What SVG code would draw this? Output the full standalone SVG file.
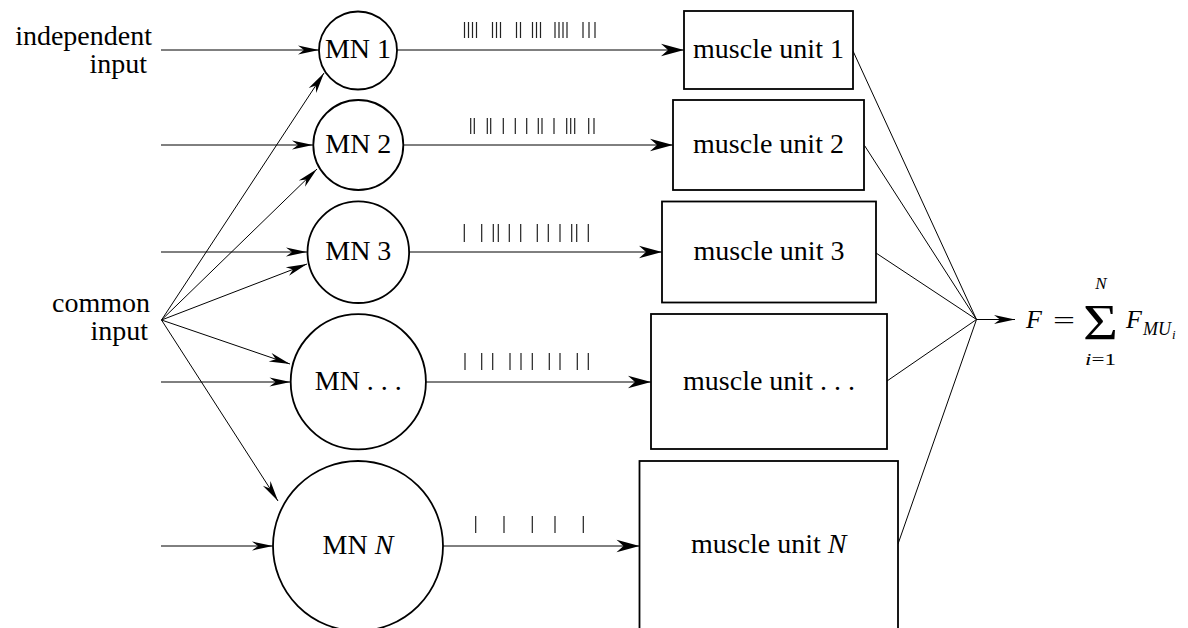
<svg xmlns="http://www.w3.org/2000/svg" width="1188" height="628" viewBox="0 0 1188 628">
<style>
text{font-family:'Liberation Serif','Times New Roman',serif;fill:#000}
.lbl{font-size:28px}
.node{fill:#fff;stroke:#000;stroke-width:1.8}
.conn{fill:none;stroke:#000;stroke-width:1}
.spk{fill:none;stroke:#222;stroke-width:1.2}
.it{font-style:italic}
</style>
<defs>
<marker id="ah" markerUnits="userSpaceOnUse" markerWidth="30" markerHeight="20" refX="0" refY="0" orient="auto" overflow="visible">
<path d="M0,0 L-21,-4.5 L-15,0 L-21,4.5 Z" fill="#000"/>
</marker>
<marker id="ahb" markerUnits="userSpaceOnUse" markerWidth="30" markerHeight="20" refX="0" refY="0" orient="auto" overflow="visible">
<path d="M0,0 L-23,-6.3 L-16,0 L-23,6.3 Z" fill="#000"/>
</marker>
</defs>
<rect width="1188" height="628" fill="#fff"/>

<g id="labels">
<text class="lbl" x="152" y="45" text-anchor="end">independent</text>
<text class="lbl" x="147" y="73" text-anchor="end">input</text>
<text class="lbl" x="150" y="312" text-anchor="end">common</text>
<text class="lbl" x="148" y="340" text-anchor="end">input</text>
</g>

<g id="connectors">
<path class="conn" marker-end="url(#ah)" d="M161,50 H319"/>
<path class="conn" marker-end="url(#ah)" d="M161,145 H313"/>
<path class="conn" marker-end="url(#ah)" d="M161,252 H307"/>
<path class="conn" marker-end="url(#ah)" d="M161,382 H290.5"/>
<path class="conn" marker-end="url(#ah)" d="M161,546 H273"/>
<path class="conn" marker-end="url(#ah)" d="M161.5,320 L324,73"/>
<path class="conn" marker-end="url(#ah)" d="M161.5,320 L317,169"/>
<path class="conn" marker-end="url(#ah)" d="M161.5,320 L307,264"/>
<path class="conn" marker-end="url(#ah)" d="M161.5,320 L290,364"/>
<path class="conn" marker-end="url(#ah)" d="M161.5,320 L278,501"/>
<path class="conn" marker-end="url(#ahb)" d="M397,50 H684"/>
<path class="conn" marker-end="url(#ahb)" d="M403,145 H673"/>
<path class="conn" marker-end="url(#ahb)" d="M409,252 H662"/>
<path class="conn" marker-end="url(#ahb)" d="M426,382 H651"/>
<path class="conn" marker-end="url(#ahb)" d="M443,546 H639.5"/>
<path class="conn" d="M853,51 L976.5,319.5 M864.5,145.5 L976.5,319.5 M876,253 L976.5,319.5 M887,381 L976.5,319.5 M898,544 L976.5,319.5"/>
<path class="conn" marker-end="url(#ah)" d="M976.5,319.5 H1015"/>
</g>

<g id="spikes">
<path class="spk" d="M464.5,22v16M468.5,22v16M472.5,22v16M476.5,22v16M492.5,22v16M496.5,22v16M500.5,22v16M516.5,22v16M520.5,22v16M532.5,22v16M536.5,22v16M540.5,22v16M555,22v16M559,22v16M563,22v16M567,22v16M583,22v16M589,22v16M595,22v16"/>
<path class="spk" d="M470.7,118v16M474.3,118v16M487.3,118v16M490.7,118v16M503.3,118v16M515.3,118v16M526.7,118v16M538.3,118v16M542,118v16M554,118v16M566.7,118v16M570.7,118v16M574.7,118v16M588.7,118v16M594,118v16"/>
<path class="spk" d="M464.3,224v18M481.7,224v18M493.3,224v18M498.3,224v18M509.3,224v18M520.7,224v18M537.3,224v18M548.3,224v18M560,224v18M571.7,224v18M576.7,224v18M588.3,224v18"/>
<path class="spk" d="M465,353v17M481.7,353v17M492.7,353v17M510,353v17M521,353v17M532.3,353v17M549.3,353v17M560,353v17M577.3,353v17M588.3,353v17"/>
<path class="spk" d="M475.7,516v17M504,516v17M532.3,516v17M555,516v17M583.3,516v17"/>
</g>

<g id="mn1"><circle class="node" cx="358" cy="50.5" r="39"/><text class="lbl" x="358" y="58" text-anchor="middle">MN 1</text></g>
<g id="mn2"><circle class="node" cx="358.3" cy="145" r="45"/><text class="lbl" x="358.3" y="152.5" text-anchor="middle">MN 2</text></g>
<g id="mn3"><circle class="node" cx="358.3" cy="252.2" r="50.8"/><text class="lbl" x="358.3" y="260" text-anchor="middle">MN 3</text></g>
<g id="mn4"><circle class="node" cx="358.3" cy="381.8" r="67.6"/><text class="lbl" x="358.3" y="389.5" text-anchor="middle">MN . . .</text></g>
<g id="mnN"><circle class="node" cx="358" cy="546" r="85"/><text class="lbl" x="358" y="553.5" text-anchor="middle">MN <tspan class="it">N</tspan></text></g>

<g id="mu1"><rect class="node" x="684" y="11" width="169" height="78"/><text class="lbl" x="768.5" y="58" text-anchor="middle">muscle unit 1</text></g>
<g id="mu2"><rect class="node" x="673" y="100" width="191" height="90"/><text class="lbl" x="768.5" y="153" text-anchor="middle">muscle unit 2</text></g>
<g id="mu3"><rect class="node" x="662" y="201.5" width="214" height="101"/><text class="lbl" x="769" y="260" text-anchor="middle">muscle unit 3</text></g>
<g id="mu4"><rect class="node" x="651" y="314" width="236" height="135"/><text class="lbl" x="769" y="390" text-anchor="middle">muscle unit . . .</text></g>
<g id="muN"><rect class="node" x="639.5" y="461" width="258.5" height="172"/><text class="lbl" x="768.75" y="553" text-anchor="middle">muscle unit <tspan class="it">N</tspan></text></g>

<g id="formula">
<text class="it" x="1026" y="328" font-size="26">F</text>
<text x="1053" y="329" font-size="26" textLength="22" lengthAdjust="spacingAndGlyphs">=</text>
<text x="1083" y="339" font-size="50" textLength="35" lengthAdjust="spacingAndGlyphs">Σ</text>
<text class="it" x="1101" y="289" font-size="17" text-anchor="middle">N</text>
<text x="1085" y="365" font-size="17" textLength="31" lengthAdjust="spacingAndGlyphs"><tspan class="it">i</tspan>=1</text>
<text class="it" x="1126" y="328" font-size="26">F</text>
<text class="it" x="1143" y="335" font-size="18">MU</text>
<text class="it" x="1172" y="339" font-size="13">i</text>
</g>
</svg>
